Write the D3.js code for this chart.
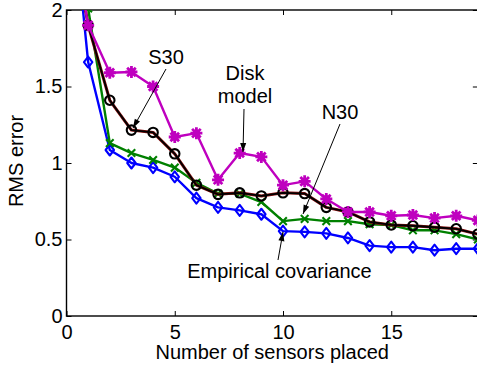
<!DOCTYPE html>
<html>
<head>
<meta charset="utf-8">
<script src="https://cdn.jsdelivr.net/npm/d3@7"></script>
<style>
  html, body { margin: 0; padding: 0; background: #fff; }
  svg { display: block; font-family: "Liberation Sans", Arial, Helvetica, sans-serif; }
</style>
</head>
<body>
<svg id="chart" width="477" height="368"></svg>
<script>
// Number of sensors placed (0..19)
const sensors = d3.range(0, 20);

// RMS error per method
const empirical = [3.08, 1.66, 1.085, 1.0, 0.97, 0.91, 0.77, 0.71, 0.69, 0.665, 0.555, 0.55, 0.54, 0.51, 0.46, 0.45, 0.45, 0.43, 0.44, 0.44];
const n30       = [3.20, 2.01, 1.13, 1.065, 1.02, 0.97, 0.87, 0.80, 0.80, 0.745, 0.62, 0.635, 0.62, 0.62, 0.60, 0.595, 0.56, 0.56, 0.535, 0.50];
const s30       = [2.72, 1.90, 1.41, 1.215, 1.20, 1.06, 0.855, 0.795, 0.805, 0.785, 0.805, 0.80, 0.71, 0.68, 0.615, 0.595, 0.59, 0.58, 0.57, 0.535];
const disk      = [2.72, 1.90, 1.59, 1.595, 1.50, 1.17, 1.195, 0.89, 1.065, 1.04, 0.855, 0.88, 0.765, 0.68, 0.68, 0.655, 0.66, 0.64, 0.655, 0.625];

const xTicks = [0, 5, 10, 15];
const yTicks = [0, 0.5, 1, 1.5, 2];

const svg = d3.select("#chart");
const pLeft = 66.5, pTop = 10, pBottom = 316, pRight = 66.5 + 19 * 21.65;

const x = d3.scaleLinear().domain([0, 19]).range([pLeft, pRight]);
const y = d3.scaleLinear().domain([0, 2]).range([pBottom, pTop]);

svg.append("defs").append("clipPath").attr("id", "plotclip")
  .append("rect").attr("x", pLeft).attr("y", pTop)
  .attr("width", pRight - pLeft).attr("height", pBottom - pTop);

// Axes with inward ticks
const fmt = d => d3.format("~g")(d);
const gx = svg.append("g").attr("transform", `translate(0,${pBottom})`)
  .call(d3.axisBottom(x).tickValues(xTicks).tickFormat(fmt).tickSizeInner(-5).tickSizeOuter(0).tickPadding(9));
const gy = svg.append("g").attr("transform", `translate(${pLeft},0)`)
  .call(d3.axisLeft(y).tickValues(yTicks).tickFormat(fmt).tickSizeInner(-5).tickSizeOuter(0).tickPadding(4));
const gt = svg.append("g").attr("transform", `translate(0,${pTop})`)
  .call(d3.axisTop(x).tickValues(xTicks).tickFormat("").tickSizeInner(-5).tickSizeOuter(0));
const gr = svg.append("g").attr("transform", `translate(${pRight},0)`)
  .call(d3.axisRight(y).tickValues(yTicks).tickFormat("").tickSizeInner(-5).tickSizeOuter(0));

[gx, gy, gt, gr].forEach(g => {
  g.select(".domain").remove();
  g.selectAll("line").attr("stroke", "#000");
  g.selectAll("text").attr("fill", "#000").style("font-size", "20px");
});

svg.append("rect").attr("x", pLeft).attr("y", pTop)
  .attr("width", pRight - pLeft).attr("height", pBottom - pTop)
  .attr("fill", "none").attr("stroke", "#000").attr("stroke-width", 1.4);

// Axis titles
svg.append("text").attr("x", (pLeft + pRight) / 2).attr("y", 359)
  .attr("text-anchor", "middle").style("font-size", "20px").text("Number of sensors placed");
svg.append("text").attr("transform", `translate(23,${(pTop + pBottom) / 2 - 2}) rotate(-90)`)
  .attr("text-anchor", "middle").style("font-size", "20px").text("RMS error");

const plot = svg.append("g").attr("clip-path", "url(#plotclip)");
const line = d3.line().x((d, i) => x(sensors[i])).y(d => y(d));

function series(values, color, marker, width, under) {
  const g = plot.append("g");
  if (under) {
    g.append("path").attr("d", line(values)).attr("fill", "none")
      .attr("stroke", under).attr("stroke-width", width + 1.2).attr("stroke-linejoin", "round");
  }
  g.append("path").attr("d", line(values)).attr("fill", "none")
    .attr("stroke", color).attr("stroke-width", width).attr("stroke-linejoin", "round");
  g.selectAll("path.m").data(values).join("path").attr("class", "m")
    .attr("transform", (d, i) => `translate(${x(sensors[i])},${y(d)})`)
    .attr("d", marker).attr("fill", "none").attr("stroke", color)
    .attr("stroke-width", 2.1).attr("stroke-linejoin", "round");
}

const diamond = "M0,-5.5L4.2,0L0,5.5L-4.2,0Z";
const cross = "M-3.8,-3.8L3.8,3.8M-3.8,3.8L3.8,-3.8";
const circle = d3.symbol(d3.symbolCircle, 70)();
const asterisk = "M0,-6L0,6M-6,0L6,0M-4.3,-4.3L4.3,4.3M-4.3,4.3L4.3,-4.3";

series(empirical, "#0000ff", diamond, 2.4);
series(n30, "#008000", cross, 2.4);
series(s30, "#000000", circle, 1.8, "#8a1010");
// star markers drawn heavier so they read as filled
(function () {
  const g = plot.append("g");
  g.append("path").attr("d", line(disk)).attr("fill", "none")
    .attr("stroke", "#bf00bf").attr("stroke-width", 2.4).attr("stroke-linejoin", "round");
  g.selectAll("path.m").data(disk).join("path").attr("class", "m")
    .attr("transform", (d, i) => `translate(${x(sensors[i])},${y(d)})`)
    .attr("d", asterisk).attr("fill", "none").attr("stroke", "#bf00bf").attr("stroke-width", 2.8);
  g.selectAll("circle.c").data(disk).join("circle").attr("class", "c")
    .attr("cx", (d, i) => x(sensors[i])).attr("cy", d => y(d)).attr("r", 3.6).attr("fill", "#bf00bf");
})();

// Annotations with arrows
function arrow(x1, y1, x2, y2) {
  svg.append("line").attr("x1", x1).attr("y1", y1).attr("x2", x2).attr("y2", y2)
    .attr("stroke", "#000").attr("stroke-width", 1);
  const a = Math.atan2(y2 - y1, x2 - x1), L = 9, W = 3;
  const bx = x2 - L * Math.cos(a), by = y2 - L * Math.sin(a);
  const px = -Math.sin(a) * W, py = Math.cos(a) * W;
  svg.append("path").attr("d", `M${x2},${y2}L${bx + px},${by + py}L${bx - px},${by - py}Z`).attr("fill", "#000");
}
function label(txt, cx, by) {
  svg.append("text").attr("x", cx).attr("y", by).attr("text-anchor", "middle")
    .style("font-size", "20px").text(txt);
}

label("S30", 166, 64);
arrow(166, 69, 133, 128);
label("Disk", 245, 80);
label("model", 245, 103);
arrow(244, 109, 243, 152);
label("N30", 340, 119);
arrow(340, 124, 303, 214);
label("Empirical covariance", 279.5, 278);
arrow(278, 260, 283, 232);
</script>
</body>
</html>
